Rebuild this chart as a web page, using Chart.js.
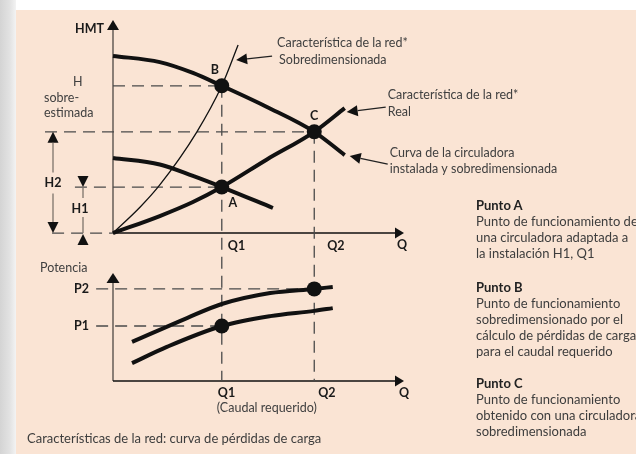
<!DOCTYPE html>
<html>
<head>
<meta charset="utf-8">
<script src="https://cdn.jsdelivr.net/npm/chart.js@4.4.0/dist/chart.umd.min.js"></script>
<style>
body { margin: 0; background: #fff; }
#wrap { position: relative; width: 636px; height: 454px; overflow: hidden; background: #fae4d4; font-family: Lato, sans-serif; color: #3d3d3d; }
#strip { position: absolute; left: 0; top: 0; width: 16px; height: 454px; background: linear-gradient(to right, #d4d4d4, #e2e2e2 60%, #f3f3f3); }
#band { position: absolute; left: 16px; top: 0; right: 0; height: 10px; background: #fff; }
canvas { position: absolute; left: 0; top: 0; }
.note { position: absolute; left: 476px; font-size: 13px; line-height: 16px; white-space: nowrap; }
.note b { color: #222; }
#caption { position: absolute; left: 27px; top: 430px; font-size: 13px; line-height: 16px; white-space: nowrap; }
</style>
</head>
<body>
<div id="wrap">
  <div id="strip"></div>
  <div id="band"></div>
  <canvas id="myChart" width="636" height="454"></canvas>
  <div class="note" style="top:197px"><b>Punto A</b><br>Punto de funcionamiento de<br>una circuladora adaptada a<br>la instalación H1, Q1</div>
  <div class="note" style="top:279px"><b>Punto B</b><br>Punto de funcionamiento<br>sobredimensionado por el<br>cálculo de pérdidas de carga<br>para el caudal requerido</div>
  <div class="note" style="top:375px"><b>Punto C</b><br>Punto de funcionamiento<br>obtenido con una circuladora<br>sobredimensionada</div>
  <div id="caption">Características de la red: curva de pérdidas de carga</div>
</div>
<script>
// curves (Q = caudal, H = altura, P = potencia)
const pumpBigQ = [0, 0.86, 1.47, 2.0, 2.83, 3.7, 4.26];
const pumpBigH = [7.7, 7.43, 6.96, 6.4, 5.48, 4.4, 3.39];
const pumpSmallQ = [0, 0.86, 1.47, 2.0, 2.94];
const pumpSmallH = [3.26, 2.98, 2.48, 2.0, 1.09];
const netRealQ = [0, 0.86, 1.47, 2.0, 2.83, 3.7, 4.26];
const netRealH = [0, 0.74, 1.35, 2.0, 3.2, 4.4, 5.43];
const netOverQ = [0, 0.5, 0.86, 1.54, 2.0, 2.3];
const netOverH = [0, 1.13, 2.09, 4.39, 6.4, 8.17];
const powerBigQ = [0.35, 1.36, 2.0, 2.89, 3.7, 4.04];
const powerBigP = [1.42, 2.29, 2.8, 3.2, 3.35, 3.42];
const powerSmallQ = [0.35, 0.99, 2.0, 2.89, 3.7, 4.04];
const powerSmallP = [0.65, 1.24, 2.0, 2.36, 2.55, 2.65];

// operating points
const pointLabels = ['A', 'B', 'C'];
const pointQ = [2.0, 2.0, 3.7];
const pointH = [2.0, 6.4, 4.4];
const powerLabels = ['P1', 'P2'];
const powerPointQ = [2.0, 3.7];
const powerPointP = [2.0, 3.35];
const flowLabels = ['Q1', 'Q2'];
const flowValues = [2.0, 3.7];

// axis extents
const Q_END = 5.35, H_TOP = 9.26, H_MIN = -6.43, P_TOP = 3.93, P_MAX = 13.13;

const ink = '#111', guide = '#4a4a4a', axisGrey = '#7d736b';
const pts = (xs, ys) => xs.map((x, i) => ({ x: x, y: ys[i] }));

function curve(label, xs, ys, axis, width) {
    return { label: label, data: pts(xs, ys), yAxisID: axis, showLine: true, borderColor: ink,
        borderWidth: width, pointRadius: 0, cubicInterpolationMode: 'monotone', clip: false, borderCapStyle: 'butt' };
}
function dashed(label, a, b, axis) {
    return { label: label, data: [a, b], yAxisID: axis, showLine: true, borderColor: guide,
        borderWidth: 1.3, borderDash: [12, 7], pointRadius: 0, tension: 0, clip: false };
}

const datasets = [
    { label: 'puntos H', data: pts(pointQ, pointH), yAxisID: 'yH', showLine: false, pointRadius: 7.5,
      pointBackgroundColor: ink, pointBorderWidth: 0, clip: false },
    { label: 'puntos P', data: pts(powerPointQ, powerPointP), yAxisID: 'yP', showLine: false, pointRadius: 7.5,
      pointBackgroundColor: ink, pointBorderWidth: 0, clip: false },
    curve('circuladora sobredimensionada', pumpBigQ, pumpBigH, 'yH', 4),
    curve('circuladora adaptada', pumpSmallQ, pumpSmallH, 'yH', 4),
    curve('red real', netRealQ, netRealH, 'yH', 4),
    curve('red sobredimensionada', netOverQ, netOverH, 'yH', 1.3),
    curve('potencia sobredimensionada', powerBigQ, powerBigP, 'yP', 4),
    curve('potencia adaptada', powerSmallQ, powerSmallP, 'yP', 4),
    dashed('H1', { x: -0.7, y: pointH[0] }, { x: pointQ[0], y: pointH[0] }, 'yH'),
    dashed('H', { x: 0, y: pointH[1] }, { x: pointQ[1], y: pointH[1] }, 'yH'),
    dashed('H2', { x: -1.25, y: pointH[2] }, { x: pointQ[2], y: pointH[2] }, 'yH'),
    dashed('base', { x: -1.12, y: 0 }, { x: 0, y: 0 }, 'yH'),
    dashed('Q1', { x: flowValues[0], y: pointH[1] }, { x: flowValues[0], y: H_MIN }, 'yH'),
    dashed('Q2', { x: flowValues[1], y: pointH[2] }, { x: flowValues[1], y: H_MIN }, 'yH'),
    dashed('P1', { x: -0.31, y: powerPointP[0] }, { x: powerPointQ[0], y: powerPointP[0] }, 'yP'),
    dashed('P2', { x: -0.31, y: powerPointP[1] }, { x: powerPointQ[1], y: powerPointP[1] }, 'yP')
];

function tri(ctx, tx, ty, dx, dy, len, half) {
    // triangle with tip at (tx,ty) pointing along (dx,dy)
    const n = Math.hypot(dx, dy); dx /= n; dy /= n;
    const bx = tx - dx * len, by = ty - dy * len;
    ctx.beginPath();
    ctx.moveTo(tx, ty);
    ctx.lineTo(bx - dy * half, by + dx * half);
    ctx.lineTo(bx + dy * half, by - dx * half);
    ctx.closePath();
    ctx.fillStyle = ink;
    ctx.fill();
}
function seg(ctx, x0, y0, x1, y1, color, w) {
    ctx.beginPath();
    ctx.moveTo(x0, y0); ctx.lineTo(x1, y1);
    ctx.strokeStyle = color; ctx.lineWidth = w; ctx.stroke();
}
function arrow(ctx, x0, y0, x1, y1, color, w, len, half) {
    const n = Math.hypot(x1 - x0, y1 - y0);
    seg(ctx, x0, y0, x1 - (x1 - x0) / n * len, y1 - (y1 - y0) / n * len, color, w);
    tri(ctx, x1, y1, x1 - x0, y1 - y0, len, half);
}
function text(ctx, s, x, y, bold, align) {
    ctx.font = (bold ? 'bold 12.5px' : '12.5px') + ' Lato, sans-serif';
    ctx.fillStyle = bold ? '#1a1a1a' : '#404040';
    ctx.textAlign = align || 'left';
    ctx.textBaseline = 'middle';
    ctx.fillText(s, x, y);
}

const diagram = {
    id: 'diagram',
    beforeDatasetsDraw(chart) {
        const { ctx, scales: { x, yH, yP } } = chart;
        const X = v => x.getPixelForValue(v), H = v => yH.getPixelForValue(v), P = v => yP.getPixelForValue(v);
        ctx.save();
        // upper axes
        arrow(ctx, X(0), H(0), X(0), H(H_TOP), axisGrey, 1.8, 10, 6);
        arrow(ctx, X(0), H(0), X(Q_END), H(0), ink, 1.4, 9, 5.5);
        // lower axes
        arrow(ctx, X(0), P(0), X(0), P(P_TOP), axisGrey, 1.8, 10, 6.5);
        arrow(ctx, X(0), P(0), X(Q_END), P(0), ink, 1.4, 9, 5.5);
        ctx.restore();
    },
    afterDatasetsDraw(chart) {
        const { ctx, scales: { x, yH, yP } } = chart;
        const X = v => x.getPixelForValue(v), H = v => yH.getPixelForValue(v), P = v => yP.getPixelForValue(v);
        ctx.save();
        const x0 = X(0);

        // H2 double arrow
        const h2x = x0 - 60, top2 = H(pointH[2]), base = H(0);
        tri(ctx, h2x, top2, 0, -1, 11, 5.5);
        seg(ctx, h2x, top2 + 11, h2x, (top2 + base) / 2 - 10, axisGrey, 1.3);
        seg(ctx, h2x, (top2 + base) / 2 + 11, h2x, base - 11, axisGrey, 1.3);
        tri(ctx, h2x, base, 0, 1, 11, 5.5);
        text(ctx, 'H2', h2x, (top2 + base) / 2 + 0.5, true, 'center');

        // H1 markers
        const h1x = x0 - 30, top1 = H(pointH[0]);
        tri(ctx, h1x, top1, 0, 1, 11, 5.5);
        seg(ctx, h1x, top1, h1x, top1 + 11, axisGrey, 1.3);
        seg(ctx, h1x, base - 16, h1x, base, axisGrey, 1.3);
        tri(ctx, h1x, base + 1, 0, -1, 11, 5.5);
        text(ctx, 'H1', h1x - 3, top1 + 22, true, 'center');

        // point labels
        text(ctx, pointLabels[1], X(pointQ[1]) - 7, H(pointH[1]) - 16, true, 'center');
        text(ctx, pointLabels[2], X(pointQ[2]), H(pointH[2]) - 16, true, 'center');
        text(ctx, pointLabels[0], X(pointQ[0]) + 11, H(pointH[0]) + 16, true, 'center');

        text(ctx, 'HMT', x0 - 9, H(H_TOP) + 9, true, 'right');
        text(ctx, 'H', x0 - 40, H(pointH[1]) - 4);
        text(ctx, 'sobre-', x0 - 69, H(pointH[1]) + 12);
        text(ctx, 'estimada', x0 - 69, H(pointH[1]) + 27);

        // flow labels
        flowLabels.forEach((s, i) => {
            text(ctx, s, X(flowValues[i]) + 6 + (i ? 7 : 0), H(0) + 13, true);
            text(ctx, s, X(flowValues[i]) - 4 + (i ? 8 : 0), P(0) + 12, true);
        });
        text(ctx, 'Q', X(Q_END) - 2, H(0) + 12, true, 'center');
        text(ctx, 'Q', X(Q_END), P(0) + 12, true, 'center');
        text(ctx, '(Caudal requerido)', X(flowValues[0]) - 5, P(0) + 27);

        // power labels
        text(ctx, 'Potencia', x0 - 73, P(P_TOP) - 5);
        powerLabels.forEach((s, i) => text(ctx, s, x0 - 24, P(powerPointP[i]), true, 'right'));

        // callouts
        const n = netOverQ.length - 1;
        let tx = X(netOverQ[n]) - 2, ty = H(netOverH[n]) + 15;
        arrow(ctx, tx + 36, ty - 4, tx, ty, '#222', 1.3, 11, 5.5);
        text(ctx, 'Característica de la red*', tx + 41, ty - 17);
        text(ctx, 'Sobredimensionada', tx + 43, ty);

        const r = netRealQ.length - 1;
        tx = X(netRealQ[r]) + 2; ty = H(netRealH[r]) + 4;
        arrow(ctx, tx + 39, ty - 5, tx, ty, '#222', 1.3, 11, 5.5);
        text(ctx, 'Característica de la red*', tx + 41, ty - 17);
        text(ctx, 'Real', tx + 41, ty);

        const b = pumpBigQ.length - 1;
        tx = X(pumpBigQ[b]) + 5; ty = H(pumpBigH[b]) + 1;
        arrow(ctx, tx + 38, ty + 8, tx, ty, '#222', 1.3, 11, 5.5);
        text(ctx, 'Curva de la circuladora', tx + 40, ty - 3);
        text(ctx, 'instalada y sobredimensionada', tx + 40, ty + 13);
        ctx.restore();
    }
};

const chart = new Chart(document.getElementById('myChart'), {
    type: 'scatter',
    data: { datasets: datasets },
    options: {
        responsive: false,
        devicePixelRatio: 1,
        animation: false,
        layout: { padding: { left: 113, right: 232, top: 20, bottom: 73 } },
        scales: {
            x: { type: 'linear', min: 0, max: Q_END, display: false },
            yH: { type: 'linear', min: H_MIN, max: H_TOP, display: false },
            yP: { type: 'linear', min: 0, max: P_MAX, display: false }
        },
        plugins: { legend: { display: false }, tooltip: { enabled: false } }
    },
    plugins: [diagram]
});
</script>
</body>
</html>
